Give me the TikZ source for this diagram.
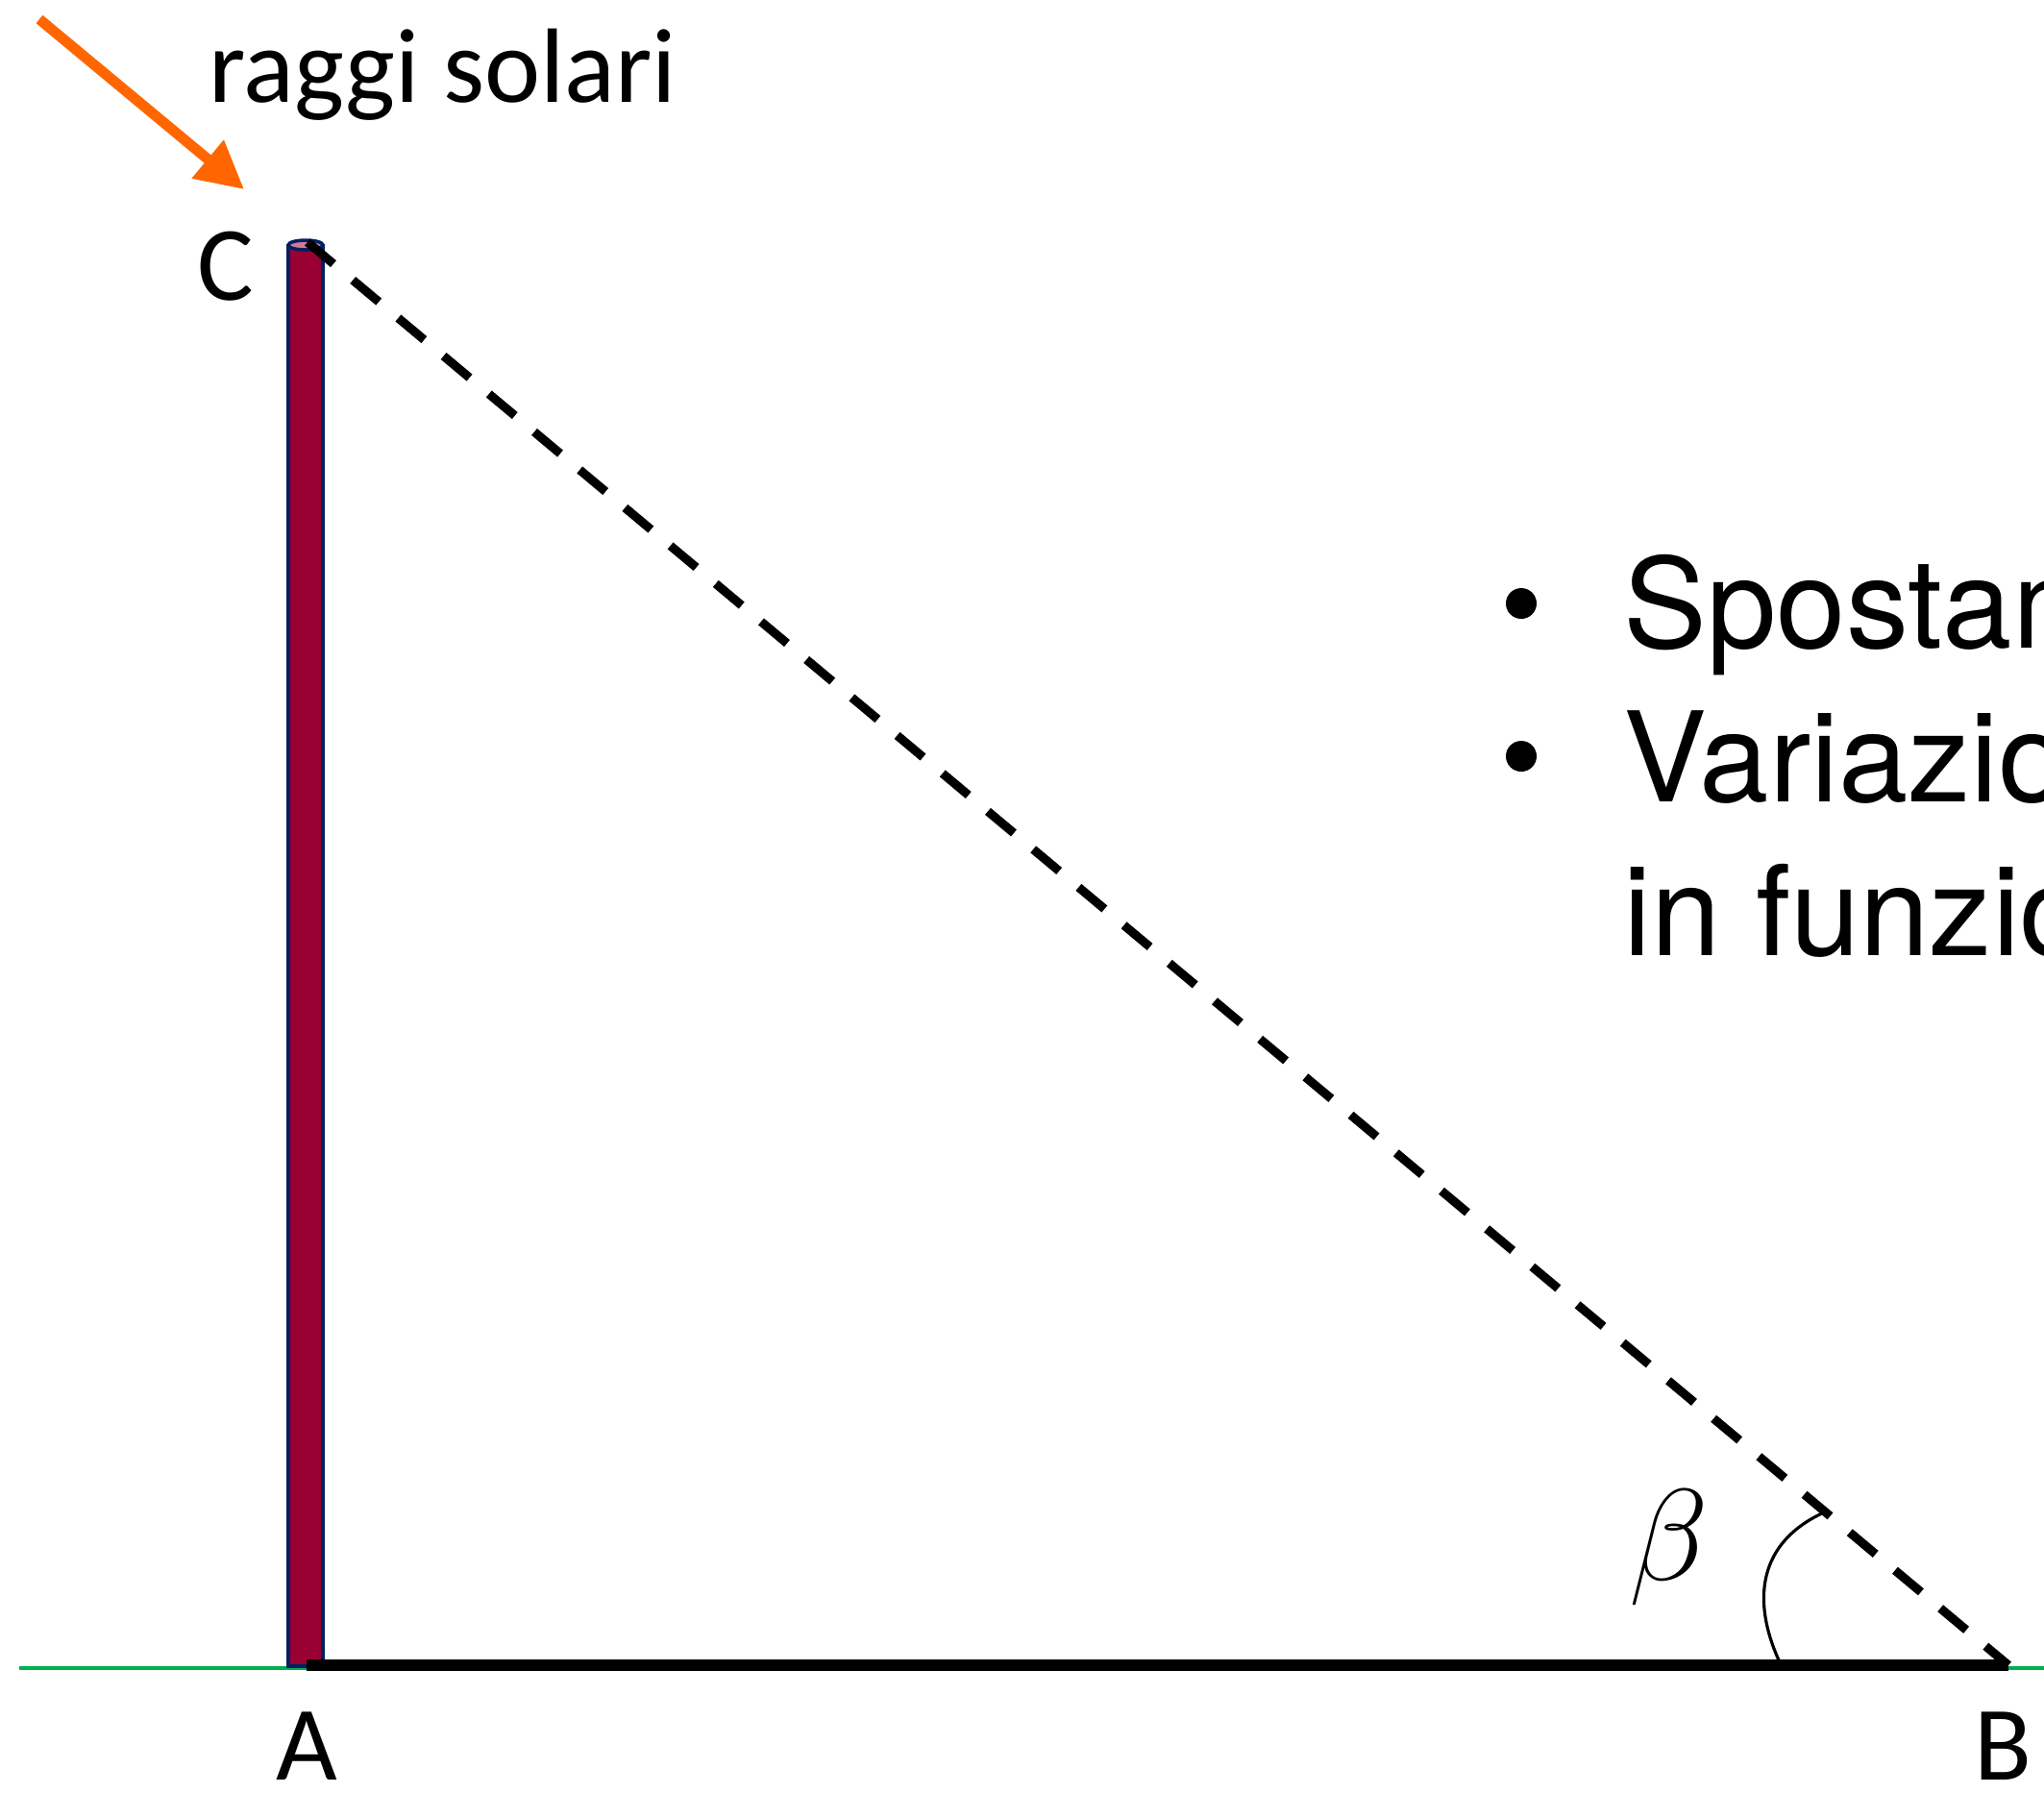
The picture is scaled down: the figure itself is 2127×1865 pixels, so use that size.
\documentclass[tikz,border=0pt]{standalone}
\usepackage{fontspec}
\setmainfont{Carlito}
\newfontfamily\helv{TeX Gyre Heros}
\usetikzlibrary{arrows.meta}
\definecolor{polered}{RGB}{153,0,51}
\definecolor{polenavy}{RGB}{0,32,96}
\definecolor{poletop}{RGB}{214,120,150}
\definecolor{sunorange}{RGB}{255,102,0}
\definecolor{groundgreen}{RGB}{0,176,80}
\tikzset{
  lbl/.style={inner sep=0pt, font=\fontsize{31.3}{37}\selectfont},
  bodytext/.style={inner sep=0pt, anchor=base west, font=\helv\fontsize{37}{44}\selectfont},
  ray/.style={draw=sunorange, line width=3.1pt, -{Triangle[length=14pt,width=14pt]}},
  shadow/.style={draw=black, line width=2.6pt, dash pattern=on 10pt off 7.5pt},
  ground/.style={draw=groundgreen, line width=1.1pt},
  base/.style={draw=black, line width=3.4pt},
}
\begin{document}
\begin{tikzpicture}[x=0.01cm,y=-0.01cm]
\useasboundingbox (0,0) rectangle (2127,1865);
\clip (0,0) rectangle (2127,1865);
% points
\coordinate (A) at (319,1733);
\coordinate (B) at (2090,1733);
\coordinate (C) at (320,252);
\coordinate (gl) at (20,1736);
\coordinate (gr) at (2127,1736);
\coordinate (raytail) at (41,20);
\coordinate (raytip) at (254,197);
% ground
\draw[ground] (gl) -- (gr);
% pole
\fill[polered, draw=polenavy, line width=1pt] (300,256) rectangle (336,1734);
\filldraw[fill=poletop, draw=polenavy, line width=1pt] (318,255) ellipse [x radius=18, y radius=5];
% base and shadow line
\draw[base] (A) -- (B);
\draw[shadow] (C) -- (B);
% angle arc
\draw[line width=0.9pt] (1852,1730) .. controls (1822,1665) and (1830,1605) .. (1898,1574);
% sun ray
\draw[ray] (raytail) -- (raytip);
% labels
\node[lbl, anchor=base west] (rs) at (217,106) {raggi solari};
\node[lbl, anchor=base] (lC) at (235,312) {C};
\node[lbl, anchor=base] (lA) at (319,1852) {A};
\node[lbl, anchor=base] (lB) at (2084,1852) {B};
\node[inner sep=0pt, scale=1.55, font=\fontsize{24.88}{30}\selectfont] (beta) at (1737,1611) {$\beta$};
% bullets and text
\fill (1583,628) circle [radius=16];
\fill (1583,787) circle [radius=16];
\node[bodytext] (t1) at (1689,674) {Spostam};
\node[bodytext] (t2) at (1689,834) {Variazio};
\node[bodytext] (t3) at (1689,994) {in funzio};
\end{tikzpicture}
\end{document}
